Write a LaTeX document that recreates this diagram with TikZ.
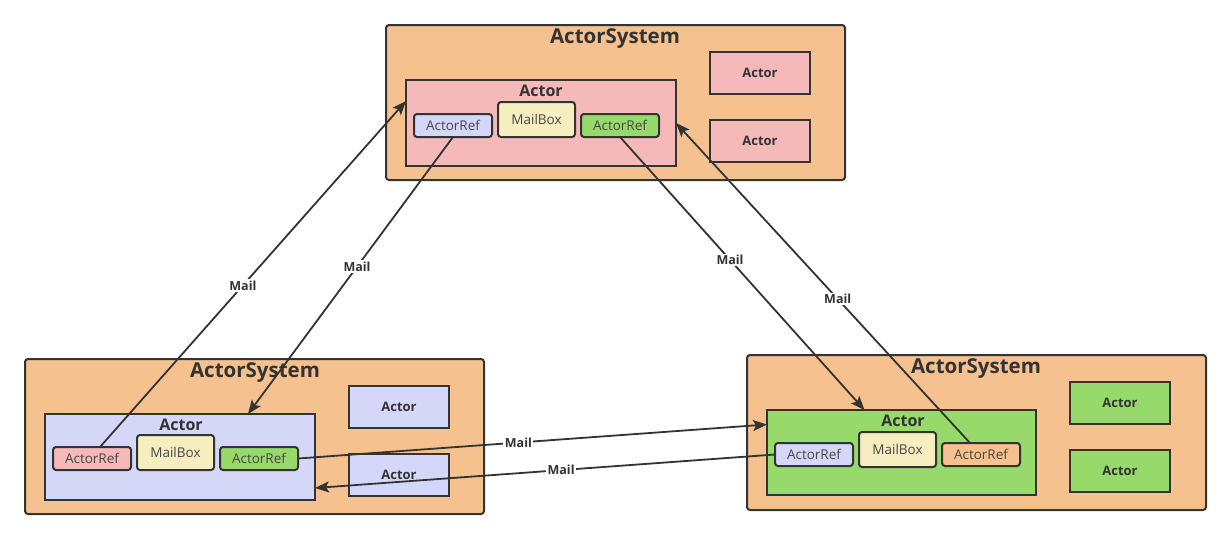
\documentclass[tikz,border=0pt]{standalone}
\usepackage{fontspec}
\setmainfont{Open Sans}
\usetikzlibrary{arrows.meta,calc}
\definecolor{sysc}{HTML}{F5C18E}
\definecolor{pinkc}{HTML}{F4B9B8}
\definecolor{bluec}{HTML}{D4D7F7}
\definecolor{greenc}{HTML}{97D96A}
\definecolor{yelc}{HTML}{F7EEC0}
\definecolor{linec}{HTML}{333333}
\begin{document}
\begin{tikzpicture}[x=1pt,y=-1pt,
  base/.style={draw=linec,line width=2pt,anchor=north west,inner sep=0pt,outer sep=0pt},
  sysbox/.style={base,fill=sysc,rounded corners=3pt,minimum width=459pt,minimum height=155pt},
  bigactor/.style={base,minimum width=270pt,minimum height=86pt},
  smallactor/.style={base,minimum width=100pt,minimum height=42pt,font=\bfseries\fontsize{13}{15}\selectfont,text=linec},
  refbox/.style={base,rounded corners=3pt,minimum width=78pt,minimum height=23pt,font=\fontsize{13.5}{15}\selectfont,text=linec!90},
  mailbox/.style={base,fill=yelc,rounded corners=3pt,minimum width=77pt,minimum height=35pt,font=\fontsize{13.5}{15}\selectfont,text=linec!90},
  systitle/.style={font=\bfseries\fontsize{20.5}{24}\selectfont,text=linec,inner sep=0pt},
  acttitle/.style={font=\bfseries\fontsize{16}{19}\selectfont,text=linec,inner sep=0pt},
  conn/.style={draw=linec,line width=1.8pt,-{Stealth[length=14pt,width=11pt,inset=3pt]}},
  lbl/.style={fill=white,inner sep=1.5pt,font=\bfseries\fontsize{12.5}{14}\selectfont,text=linec}]
\useasboundingbox (0,0) rectangle (1231,539);
\fill[white] (0,0) rectangle (1231,539);
% top system
\node[sysbox] (ts) at (386,25) {};
\node[systitle] (tst) at (615,39) {ActorSystem};
\node[bigactor,fill=pinkc] (ta) at (406,80) {};
\node[acttitle] (tat) at (541,91) {Actor};
\node[refbox,fill=bluec] (tr1) at (414,114) {ActorRef};
\node[mailbox] (tm) at (498,102) {MailBox};
\node[refbox,fill=greenc] (tr2) at (581,114) {ActorRef};
\node[smallactor,fill=pinkc] (ts1) at (710,52) {Actor};
\node[smallactor,fill=pinkc] (ts2) at (710,120) {Actor};
% bottom-left system
\node[sysbox] (ls) at (25,359) {};
\node[systitle] (lst) at (255,373) {ActorSystem};
\node[bigactor,fill=bluec] (la) at (45,414) {};
\node[acttitle] (lat) at (181,425) {Actor};
\node[refbox,fill=pinkc] (lr1) at (53,447) {ActorRef};
\node[mailbox] (lm) at (137,435) {MailBox};
\node[refbox,fill=greenc] (lr2) at (220,447) {ActorRef};
\node[smallactor,fill=bluec] (ls1) at (349,386) {Actor};
\node[smallactor,fill=bluec] (ls2) at (349,454) {Actor};
% bottom-right system
\node[sysbox] (rs) at (747,355) {};
\node[systitle] (rst) at (976,369) {ActorSystem};
\node[bigactor,fill=greenc,minimum width=269pt,minimum height=85pt] (ra) at (767,410) {};
\node[acttitle] (rat) at (903,421) {Actor};
\node[refbox,fill=bluec] (rr1) at (775,443) {ActorRef};
\node[mailbox] (rm) at (859,432) {MailBox};
\node[refbox,fill=sysc] (rr2) at (942,443) {ActorRef};
\node[smallactor,fill=greenc] (rs1) at (1070,382) {Actor};
\node[smallactor,fill=greenc] (rs2) at (1070,450) {Actor};
% connectors
\draw[conn] ([xshift=8pt]lr1.north) -- node[lbl,pos=0.467] {Mail} ([yshift=22pt]ta.west);
\draw[conn] (tr1.south) -- node[lbl,pos=0.468] {Mail} ([xshift=68pt]la.north);
\draw[conn] (tr2.south) -- node[lbl,pos=0.45] {Mail} ([xshift=-37pt]ra.north);
\draw[conn] ([xshift=-11pt]rr2.north) -- node[lbl,pos=0.45] {Mail} (ta.east);
\draw[conn] (lr2.east) -- node[lbl,pos=0.47] {Mail} ([yshift=28pt]ra.west);
\draw[conn] (rr1.west) -- node[lbl,pos=0.465] {Mail} ([yshift=-31pt]la.east);
\end{tikzpicture}
\end{document}
